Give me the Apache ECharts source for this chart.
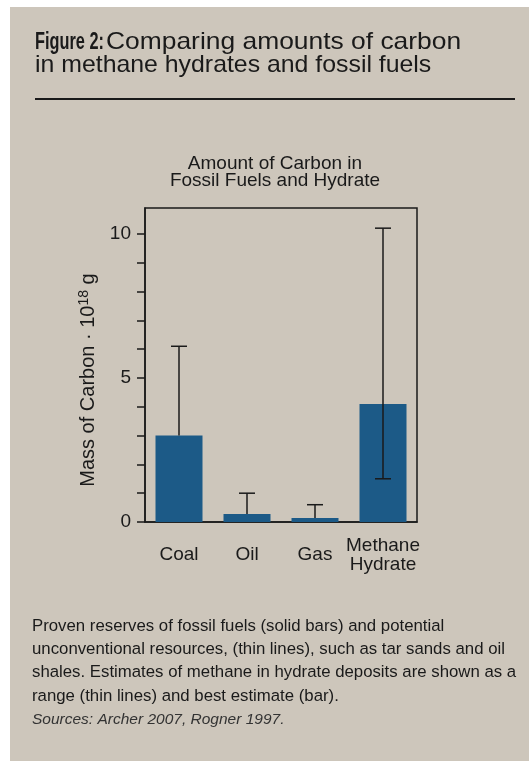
<!DOCTYPE html>
<html>
<head>
<meta charset="utf-8">
<script src="https://cdn.jsdelivr.net/npm/echarts@6/dist/echarts.min.js"></script>
<style>
html,body{margin:0;padding:0;background:#ffffff;}
#chart{width:529px;height:761px;}
</style>
</head>
<body>
<div id="chart"></div>
<script>
const categories = ['Coal', 'Oil', 'Gas', 'Methane\nHydrate'];
const bestEstimate = [3.0, 0.28, 0.14, 4.1];
const rangeLow = [3.0, 0.28, 0.14, 1.5];
const rangeHigh = [6.1, 1.0, 0.6, 10.2];
const yTickValues = [0, 1, 2, 3, 4, 5, 6, 7, 8, 9, 10];
const yLabelValues = [0, 5, 10];

const BG = '#cdc6bb';
const BAR = '#1c5a87';
const INK = '#1a1a1a';
const FONT = "'Liberation Sans', Arial, Helvetica, sans-serif";

const errData = categories.map((c, i) => [i, rangeLow[i], rangeHigh[i], bestEstimate[i]]);

const chart = echarts.init(document.getElementById('chart'), null, {renderer: 'canvas'});
chart.setOption({
  backgroundColor: '#ffffff',
  animation: false,
  grid: {left: 145, top: 208, right: 112, bottom: 239, show: true, borderColor: INK, borderWidth: 1.5, backgroundColor: 'transparent'},
  xAxis: {
    type: 'category',
    data: categories,
    axisLine: {show: true, lineStyle: {color: INK, width: 1.5}},
    axisTick: {show: false},
    axisLabel: {interval: 0, color: INK, fontFamily: FONT, fontSize: 19, lineHeight: 19, margin: 33, verticalAlign: 'middle'}
  },
  yAxis: {
    type: 'value',
    min: 0,
    max: 10.9,
    splitLine: {show: false},
    axisLine: {show: true, lineStyle: {color: INK, width: 1.5}},
    axisTick: {show: true, inside: false, length: 8, lineStyle: {color: INK, width: 1.5}, customValues: yTickValues},
    axisLabel: {color: INK, fontFamily: FONT, fontSize: 19, margin: 14, customValues: yLabelValues}
  },
  series: [
    {
      type: 'bar',
      data: bestEstimate,
      barWidth: 47,
      itemStyle: {color: BAR},
      z: 2
    },
    {
      type: 'custom',
      data: errData,
      z: 5,
      renderItem: function (params, api) {
        const i = api.value(0);
        const lo = api.coord([i, api.value(1)]);
        const hi = api.coord([i, api.value(2)]);
        const half = 8;
        const style = {stroke: INK, lineWidth: 1.5};
        const children = [
          {type: 'line', shape: {x1: hi[0], y1: lo[1], x2: hi[0], y2: hi[1]}, style: style},
          {type: 'line', shape: {x1: hi[0] - half, y1: hi[1], x2: hi[0] + half, y2: hi[1]}, style: style}
        ];
        if (api.value(1) < api.value(3)) {
          children.push({type: 'line', shape: {x1: lo[0] - half, y1: lo[1], x2: lo[0] + half, y2: lo[1]}, style: style});
        }
        return {type: 'group', children: children};
      }
    }
  ],
  graphic: [
    {type: 'rect', shape: {x: 10, y: 7, width: 519, height: 754}, style: {fill: BG}, z: -10, silent: true},
    {type: 'text', x: 35, y: 42, scaleX: 0.68, style: {text: 'Figure 2:', fontFamily: FONT, fontWeight: 'bold', fontSize: 24, fill: INK, verticalAlign: 'middle'}},
    {type: 'text', x: 106, y: 42, scaleX: 1.1, style: {text: 'Comparing amounts of carbon', fontFamily: FONT, fontSize: 24, fill: INK, verticalAlign: 'middle'}},
    {type: 'text', x: 35, y: 65, scaleX: 1.035, style: {text: 'in methane hydrates and fossil fuels', fontFamily: FONT, fontSize: 24, fill: INK, verticalAlign: 'middle'}},
    {type: 'line', shape: {x1: 35, y1: 99, x2: 515, y2: 99}, style: {stroke: INK, lineWidth: 2}},
    {type: 'text', x: 275, y: 172, style: {text: 'Amount of Carbon in\nFossil Fuels and Hydrate', fontFamily: FONT, fontSize: 19, lineHeight: 17, fill: INK, align: 'center', verticalAlign: 'middle'}},
    {type: 'text', x: 88, y: 380, rotation: Math.PI / 2, style: {
      text: '{r|Mass of Carbon · 10}{s|18}{r| g}',
      align: 'center', verticalAlign: 'middle',
      rich: {
        r: {fontFamily: FONT, fontSize: 20, fill: INK},
        s: {fontFamily: FONT, fontSize: 14, fill: INK, padding: [0, 0, 7, 0]}
      }
    }},
    {type: 'text', x: 32, y: 626, style: {text: 'Proven reserves of fossil fuels (solid bars) and potential', fontFamily: FONT, fontSize: 16.8, fill: INK, verticalAlign: 'middle'}},
    {type: 'text', x: 32, y: 649, style: {text: 'unconventional resources, (thin lines), such as tar sands and oil', fontFamily: FONT, fontSize: 16.8, fill: INK, verticalAlign: 'middle'}},
    {type: 'text', x: 32, y: 672, style: {text: 'shales. Estimates of methane in hydrate deposits are shown as a', fontFamily: FONT, fontSize: 16.8, fill: INK, verticalAlign: 'middle'}},
    {type: 'text', x: 32, y: 696, style: {text: 'range (thin lines) and best estimate (bar).', fontFamily: FONT, fontSize: 16.8, fill: INK, verticalAlign: 'middle'}},
    {type: 'text', x: 32, y: 720, style: {text: 'Sources: Archer 2007, Rogner 1997.', fontFamily: FONT, fontStyle: 'italic', fontSize: 15.5, fill: '#333333', verticalAlign: 'middle'}}
  ]
});
</script>
</body>
</html>
